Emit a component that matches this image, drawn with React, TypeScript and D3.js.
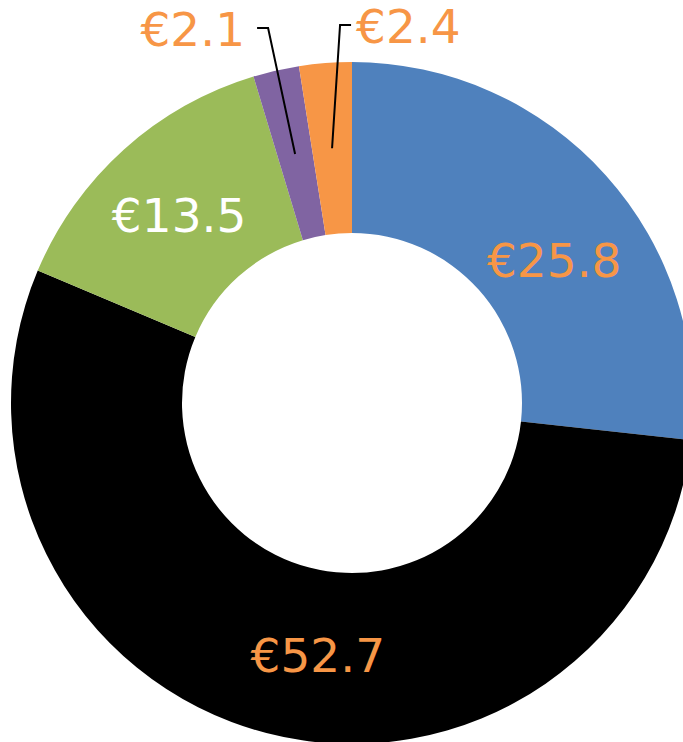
import React from "react";
import * as d3 from "d3";

const categories = ["A", "B", "C", "D", "E"];
const values = [25.8, 52.7, 13.5, 2.1, 2.4];
const colors = ["#4F81BD", "#000000", "#9BBB59", "#8064A2", "#F79646"];
const labelColors = ["#F79646", "#F79646", "#FFFFFF", "#F79646", "#F79646"];
const labelText = values.map((v) => `€${v.toFixed(1)}`);
// label placement tweaks (dx, dy) relative to centroid; null = leader label
const labelShift: ([number, number] | null)[] = [[12, 28], [30, 5], [-2, 2], null, null];
const leaderSpec: ({ elbowX: number; elbowY: number; side: number; gap: number } | null)[] = [
  null,
  null,
  null,
  { elbowX: -27, elbowY: 28, side: -1, gap: 12 },
  { elbowX: 8, elbowY: 25, side: 1, gap: 5 },
];

const W = 683;
const H = 742;
const cx = 352;
const cy = 403;
const outerR = 341;
const innerR = 170;

export default function App() {
  const pie = d3.pie<number>().sort(null).value((d) => d);
  const arcs = pie(values);
  const arc = d3.arc<d3.PieArcDatum<number>>().innerRadius(innerR).outerRadius(outerR);
  const fontSize = 47;
  return (
    <svg
      width={W}
      height={H}
      style={{ position: "absolute", left: 0, top: 0, display: "block" }}
      fontFamily="'DejaVu Sans', Verdana, sans-serif"
    >
      <rect width={W} height={H} fill="#fff" />
      <g transform={`translate(${cx},${cy})`}>
        {arcs.map((a, i) => (
          <path key={categories[i]} d={arc(a) || ""} fill={colors[i]} />
        ))}
        {arcs.map((a, i) => {
          const [x, y] = arc.centroid(a);
          const s = labelShift[i];
          if (s) {
            return (
              <text
                key={"l" + i}
                x={x + s[0]}
                y={y + s[1]}
                textAnchor="middle"
                dominantBaseline="central"
                fontSize={fontSize}
                fill={labelColors[i]}
              >
                {labelText[i]}
              </text>
            );
          }
          const L = leaderSpec[i]!;
          const ex = x + L.elbowX;
          const ey = L.elbowY - cy;
          const hx = ex + L.side * 11;
          return (
            <g key={"l" + i}>
              <polyline
                points={`${x},${y} ${ex},${ey} ${hx},${ey}`}
                fill="none"
                stroke="#000"
                strokeWidth={2}
              />
              <text
                x={hx + L.side * L.gap}
                y={ey + 1}
                textAnchor={L.side < 0 ? "end" : "start"}
                dominantBaseline="central"
                fontSize={fontSize}
                fill={labelColors[i]}
              >
                {labelText[i]}
              </text>
            </g>
          );
        })}
      </g>
    </svg>
  );
}
